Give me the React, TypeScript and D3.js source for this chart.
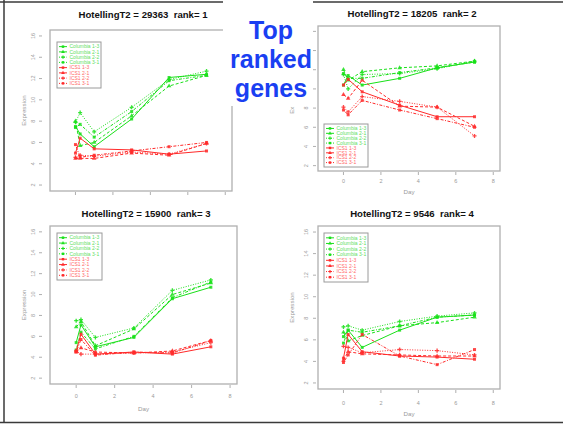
import React from 'react';
import * as d3 from 'd3';

// sampling times (days)
const days = [0, 0.25, 1, 3, 5, 7];

const seriesNames = [
  'Columbia 1-3', 'Columbia 2-1', 'Columbia 2-2', 'Columbia 3-1',
  'ICS1 1-3', 'ICS1 2-1', 'ICS1 2-2', 'ICS1 3-1',
];

const titles = [
  'HotellingT2 = 29363  rank= 1',
  'HotellingT2 = 18205  rank= 2',
  'HotellingT2 = 15900  rank= 3',
  'HotellingT2 = 9546  rank= 4',
];

const xTicks = [0, 2, 4, 6, 8];
const yTicks = [2, 4, 6, 8, 10, 12, 14, 16];

// one row per series, same order as seriesNames
const rank1Values = [
  [7.5, 6.8, 5.6, 8.2, 12.1, 12.4],
  [8.0, 5.7, 6.0, 8.5, 11.3, 12.3],
  [7.9, 8.8, 7.0, 9.3, 11.9, 12.7],
  [7.4, 7.7, 6.5, 8.9, 11.8, 12.3],
  [5.0, 6.4, 5.4, 5.3, 4.9, 5.2],
  [4.5, 4.5, 4.5, 5.0, 4.8, 5.9],
  [4.6, 4.8, 4.7, 5.1, 4.9, 5.9],
  [5.8, 4.6, 4.8, 5.2, 5.6, 6.0],
];

const rank2Values = [
  [10.4, 11.4, 10.4, 11.1, 12.2, 12.8],
  [12.0, 10.9, 11.8, 12.2, 12.4, 12.9],
  [11.5, 10.0, 11.5, 11.6, 12.1, 12.9],
  [11.6, 11.1, 11.1, 11.7, 12.2, 12.8],
  [10.4, 11.0, 9.7, 8.3, 7.1, 7.1],
  [9.4, 9.0, 10.9, 8.2, 8.1, 6.1],
  [8.1, 7.6, 9.2, 8.7, 8.1, 5.1],
  [7.8, 7.3, 8.8, 7.8, 6.9, 6.0],
];

const rank3Values = [
  [5.4, 7.1, 5.0, 5.9, 9.6, 10.7],
  [6.9, 7.4, 5.1, 6.7, 10.0, 11.1],
  [7.5, 7.6, 5.9, 6.8, 10.4, 11.4],
  [4.7, 6.4, 4.8, 6.0, 9.7, 11.2],
  [4.6, 6.2, 4.3, 4.5, 4.3, 5.0],
  [4.5, 4.9, 4.5, 4.4, 4.6, 5.6],
  [4.6, 4.3, 4.3, 4.4, 4.5, 5.4],
  [4.5, 5.7, 4.2, 4.5, 4.4, 5.6],
];

const rank4Values = [
  [6.3, 6.9, 5.3, 6.9, 8.1, 8.3],
  [6.7, 5.9, 6.4, 7.3, 7.6, 8.1],
  [7.2, 7.3, 6.9, 7.7, 8.2, 8.5],
  [5.7, 6.9, 6.7, 7.3, 8.1, 8.3],
  [4.3, 6.5, 4.9, 4.5, 4.4, 4.2],
  [4.1, 4.9, 4.7, 4.6, 4.5, 4.5],
  [5.4, 5.3, 4.8, 5.1, 5.0, 4.6],
  [3.9, 4.6, 6.5, 4.5, 3.7, 5.1],
];

const panelValues = [rank1Values, rank2Values, rank3Values, rank4Values];

const GREEN = '#19e019';
const RED = '#ff2a2a';
const GREY = '#9a9a9a';
const FONT = '"Liberation Sans", Arial, sans-serif';

const dashes = ['none', '3,2', '1,1.5', '1,1.5,3,1.5'];
const symbols = [d3.symbolSquare, d3.symbolTriangle, d3.symbolCross, d3.symbolSquare];

// where each of the four R plots sits on the slide
const layouts = [
  { x0: 50, x1: 232, y0: 30, y1: 191, tx: 143, ty: 18, yTickX: 42, yLabX: 35, ylabX: 26, xLabY: null, dayY: null,
    legend: { x: 57, y: 42, w: 44, h: 46 } },
  { x0: 318, x1: 500, y0: 26, y1: 171, tx: 412, ty: 17, yTickX: 316, yLabX: 308, ylabX: 294, xLabY: 183, dayY: 194,
    legend: { x: 324, y: 124, w: 44, h: 43 } },
  { x0: 50, x1: 237, y0: 226, y1: 384, tx: 146, ty: 217, yTickX: 42, yLabX: 35, ylabX: 26, xLabY: 398, dayY: 411,
    legend: { x: 57, y: 233, w: 45, h: 47 } },
  { x0: 318, x1: 500, y0: 226, y1: 389, tx: 412, ty: 217, yTickX: 316, yLabX: 308, ylabX: 294, xLabY: 405, dayY: 416,
    legend: { x: 324, y: 233, w: 44, h: 49 } },
];

function Panel({ idx }: { idx: number }) {
  const L = layouts[idx];
  const values = panelValues[idx];
  const x = d3.scaleLinear().domain([-1.36, 8.36]).range([L.x0, L.x1]);
  const y = d3.scaleLinear().domain([1.44, 16.56]).range([L.y1, L.y0]);
  const line = d3.line<number>().x((_, i) => x(days[i])).y((v) => y(v));
  const lg = L.legend;
  const rowH = (lg.h - 4) / seriesNames.length;

  return (
    <g>
      <text x={L.tx} y={L.ty} textAnchor="middle" fontFamily={FONT} fontWeight="bold" fontSize={9.6}
        fill="#111" style={{ whiteSpace: 'pre' }}>{titles[idx]}</text>
      <rect x={L.x0} y={L.y0} width={L.x1 - L.x0} height={L.y1 - L.y0} fill="none" stroke="#b0b0b0" strokeWidth={1.3} />
      {xTicks.map((t) => (
        <g key={'xt' + t}>
          <line x1={x(t)} x2={x(t)} y1={L.y1 + 1} y2={L.y1 + 4} stroke={GREY} strokeWidth={0.8} />
          {L.xLabY !== null && (
            <text x={x(t)} y={L.xLabY} textAnchor="middle" fontFamily={FONT} fontSize={5.5} fill={GREY}>{t}</text>
          )}
        </g>
      ))}
      {yTicks.map((t) => (
        <g key={'yt' + t}>
          <line x1={L.yTickX - 3} x2={L.yTickX} y1={y(t)} y2={y(t)} stroke={GREY} strokeWidth={0.8} />
          <text transform={`translate(${L.yLabX},${y(t)}) rotate(-90)`} textAnchor="middle" fontFamily={FONT}
            fontSize={5.5} fill={GREY}>{t}</text>
        </g>
      ))}
      <text transform={`translate(${L.ylabX},${(L.y0 + L.y1) / 2}) rotate(-90)`} textAnchor="middle"
        fontFamily={FONT} fontSize={6.2} fill={GREY}>Expression</text>
      {L.dayY !== null && (
        <text x={(L.x0 + L.x1) / 2} y={L.dayY} textAnchor="middle" fontFamily={FONT} fontSize={6.2} fill={GREY}>Day</text>
      )}
      {values.map((row, s) => {
        const col = s < 4 ? GREEN : RED;
        const sym = d3.symbol().type(symbols[s % 4]).size(9)();
        return (
          <g key={'s' + s}>
            <path d={line(row) || ''} fill="none" stroke={col} strokeWidth={1} strokeDasharray={dashes[s % 4]} />
            {row.map((v, i) => (
              <path key={i} d={sym || ''} transform={`translate(${x(days[i])},${y(v)})`} fill={col} opacity={0.85} />
            ))}
          </g>
        );
      })}
      <rect x={lg.x} y={lg.y} width={lg.w} height={lg.h} fill="#fff" stroke="#9a9a9a" strokeWidth={1} />
      {seriesNames.map((name, s) => {
        const cy = lg.y + 2 + (s + 0.5) * rowH;
        const col = s < 4 ? GREEN : RED;
        const sym = d3.symbol().type(symbols[s % 4]).size(6)();
        return (
          <g key={'l' + s}>
            <line x1={lg.x + 2} x2={lg.x + 10} y1={cy} y2={cy} stroke={col} strokeWidth={1}
              strokeDasharray={dashes[s % 4]} />
            <path d={sym || ''} transform={`translate(${lg.x + 6},${cy})`} fill={col} />
            <text x={lg.x + 12.5} y={cy + 1.8} fontFamily={FONT} fontSize={5} fill={s < 4 ? '#5fe05f' : '#ff6a6a'}>{name}</text>
          </g>
        );
      })}
    </g>
  );
}

export default function App() {
  return (
    <svg width={563} height={424} style={{ position: 'absolute', left: 0, top: 0, background: '#fff' }}>
      <rect x={0} y={0} width={563} height={424} fill="#fff" />
      <line x1={0} x2={563} y1={2} y2={2} stroke="#3a3a3a" strokeWidth={1.5} />
      <line x1={4} x2={4} y1={0} y2={423} stroke="#3a3a3a" strokeWidth={1.5} />
      <line x1={0} x2={563} y1={422.5} y2={422.5} stroke="#3a3a3a" strokeWidth={1.5} />
      {layouts.map((_, i) => <Panel key={i} idx={i} />)}
      {/* white text box of the slide title, covering part of the first two plots */}
      <rect x={223} y={0} width={90} height={106} fill="#fff" />
      <g fontFamily={FONT} fontWeight="bold" fontSize={25} fill="#1a3ff2" textAnchor="middle">
        <text x={271} y={39}>Top</text>
        <text x={271} y={68}>ranked</text>
        <text x={271} y={97}>genes</text>
      </g>
    </svg>
  );
}
